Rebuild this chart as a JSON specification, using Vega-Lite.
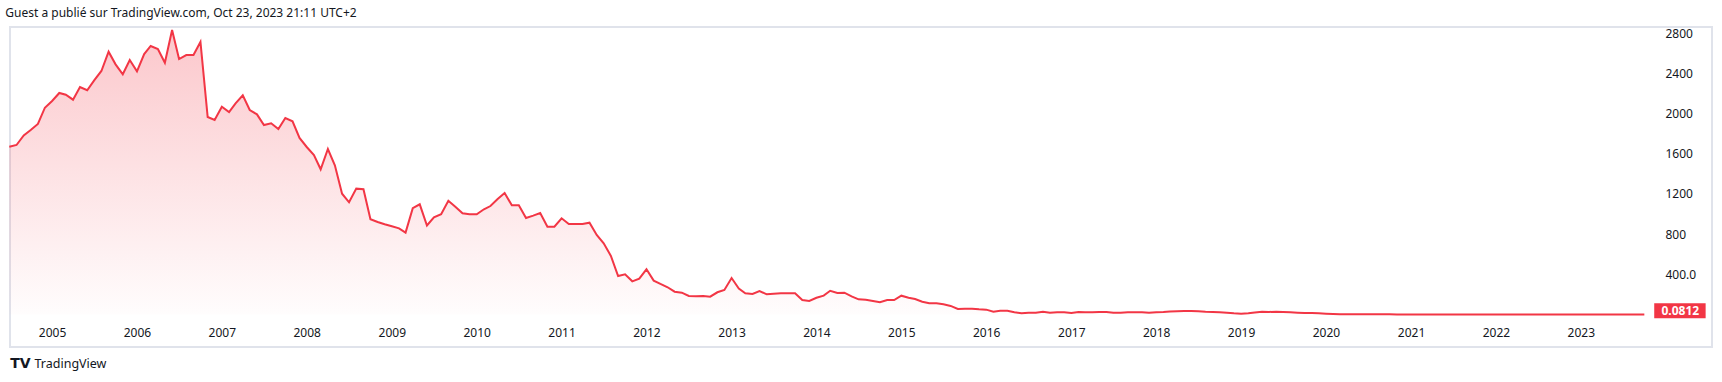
{
  "$schema": "https://vega.github.io/schema/vega-lite/v6.json",
  "width": 1702,
  "height": 320,
  "autosize": {"type": "none"},
  "padding": {"left": 10, "top": 27, "right": 10, "bottom": 35},
  "background": "white",
  "title": {
    "text": "Guest a publié sur TradingView.com, Oct 23, 2023 21:11 UTC+2",
    "anchor": "start",
    "font": "Noto Sans",
    "fontSize": 12,
    "fontWeight": "normal",
    "color": "#131722",
    "offset": 6
  },
  "config": {
    "view": {"stroke": "#e0e3eb", "strokeWidth": 2},
    "axis": {"grid": false, "domain": false, "ticks": false, "tickSize": 0, "labelFont": "Noto Sans", "labelFontSize": 12, "labelColor": "#131722", "labelFlush": false, "labelOverlap": false}
  },
  "data": {
    "values": [
      {"date": "2004-07-01", "value": 1671}, {"date": "2004-08-01", "value": 1688}, {"date": "2004-09-01", "value": 1784}, {"date": "2004-10-01", "value": 1837}, {"date": "2004-11-01", "value": 1897}, {"date": "2004-12-01", "value": 2059},
      {"date": "2005-01-01", "value": 2126}, {"date": "2005-02-01", "value": 2206}, {"date": "2005-03-01", "value": 2189}, {"date": "2005-04-01", "value": 2139}, {"date": "2005-05-01", "value": 2265}, {"date": "2005-06-01", "value": 2233}, {"date": "2005-07-01", "value": 2332}, {"date": "2005-08-01", "value": 2425}, {"date": "2005-09-01", "value": 2617}, {"date": "2005-10-01", "value": 2491}, {"date": "2005-11-01", "value": 2392}, {"date": "2005-12-01", "value": 2534},
      {"date": "2006-01-01", "value": 2422}, {"date": "2006-02-01", "value": 2594}, {"date": "2006-03-01", "value": 2674}, {"date": "2006-04-01", "value": 2644}, {"date": "2006-05-01", "value": 2507}, {"date": "2006-06-01", "value": 2833}, {"date": "2006-07-01", "value": 2544}, {"date": "2006-08-01", "value": 2584}, {"date": "2006-09-01", "value": 2584}, {"date": "2006-10-01", "value": 2714}, {"date": "2006-11-01", "value": 1967}, {"date": "2006-12-01", "value": 1937},
      {"date": "2007-01-01", "value": 2069}, {"date": "2007-02-01", "value": 2016}, {"date": "2007-03-01", "value": 2103}, {"date": "2007-04-01", "value": 2183}, {"date": "2007-05-01", "value": 2036}, {"date": "2007-06-01", "value": 1993}, {"date": "2007-07-01", "value": 1887}, {"date": "2007-08-01", "value": 1904}, {"date": "2007-09-01", "value": 1847}, {"date": "2007-10-01", "value": 1957}, {"date": "2007-11-01", "value": 1924}, {"date": "2007-12-01", "value": 1758},
      {"date": "2008-01-01", "value": 1668}, {"date": "2008-02-01", "value": 1588}, {"date": "2008-03-01", "value": 1446}, {"date": "2008-04-01", "value": 1648}, {"date": "2008-05-01", "value": 1486}, {"date": "2008-06-01", "value": 1203}, {"date": "2008-07-01", "value": 1117}, {"date": "2008-08-01", "value": 1253}, {"date": "2008-09-01", "value": 1247}, {"date": "2008-10-01", "value": 948}, {"date": "2008-11-01", "value": 921}, {"date": "2008-12-01", "value": 898},
      {"date": "2009-01-01", "value": 878}, {"date": "2009-02-01", "value": 858}, {"date": "2009-03-01", "value": 815}, {"date": "2009-04-01", "value": 1058}, {"date": "2009-05-01", "value": 1097}, {"date": "2009-06-01", "value": 886}, {"date": "2009-07-01", "value": 968}, {"date": "2009-08-01", "value": 998}, {"date": "2009-09-01", "value": 1132}, {"date": "2009-10-01", "value": 1073}, {"date": "2009-11-01", "value": 1008}, {"date": "2009-12-01", "value": 998},
      {"date": "2010-01-01", "value": 998}, {"date": "2010-02-01", "value": 1048}, {"date": "2010-03-01", "value": 1080}, {"date": "2010-04-01", "value": 1150}, {"date": "2010-05-01", "value": 1210}, {"date": "2010-06-01", "value": 1087}, {"date": "2010-07-01", "value": 1087}, {"date": "2010-08-01", "value": 961}, {"date": "2010-09-01", "value": 984}, {"date": "2010-10-01", "value": 1011}, {"date": "2010-11-01", "value": 874}, {"date": "2010-12-01", "value": 874},
      {"date": "2011-01-01", "value": 958}, {"date": "2011-02-01", "value": 901}, {"date": "2011-03-01", "value": 901}, {"date": "2011-04-01", "value": 901}, {"date": "2011-05-01", "value": 914}, {"date": "2011-06-01", "value": 792}, {"date": "2011-07-01", "value": 709}, {"date": "2011-08-01", "value": 583}, {"date": "2011-09-01", "value": 383}, {"date": "2011-10-01", "value": 400}, {"date": "2011-11-01", "value": 330}, {"date": "2011-12-01", "value": 357},
      {"date": "2012-01-01", "value": 450}, {"date": "2012-02-01", "value": 337}, {"date": "2012-03-01", "value": 304}, {"date": "2012-04-01", "value": 271}, {"date": "2012-05-01", "value": 227}, {"date": "2012-06-01", "value": 217}, {"date": "2012-07-01", "value": 184}, {"date": "2012-08-01", "value": 181}, {"date": "2012-09-01", "value": 184}, {"date": "2012-10-01", "value": 177}, {"date": "2012-11-01", "value": 221}, {"date": "2012-12-01", "value": 244},
      {"date": "2013-01-01", "value": 363}, {"date": "2013-02-01", "value": 257}, {"date": "2013-03-01", "value": 211}, {"date": "2013-04-01", "value": 204}, {"date": "2013-05-01", "value": 234}, {"date": "2013-06-01", "value": 201}, {"date": "2013-07-01", "value": 207}, {"date": "2013-08-01", "value": 211}, {"date": "2013-09-01", "value": 211}, {"date": "2013-10-01", "value": 211}, {"date": "2013-11-01", "value": 144}, {"date": "2013-12-01", "value": 135},
      {"date": "2014-01-01", "value": 166}, {"date": "2014-02-01", "value": 188}, {"date": "2014-03-01", "value": 236}, {"date": "2014-04-01", "value": 214}, {"date": "2014-05-01", "value": 217}, {"date": "2014-06-01", "value": 181}, {"date": "2014-07-01", "value": 151}, {"date": "2014-08-01", "value": 147}, {"date": "2014-09-01", "value": 134}, {"date": "2014-10-01", "value": 121}, {"date": "2014-11-01", "value": 144}, {"date": "2014-12-01", "value": 144},
      {"date": "2015-01-01", "value": 187}, {"date": "2015-02-01", "value": 167}, {"date": "2015-03-01", "value": 154}, {"date": "2015-04-01", "value": 127}, {"date": "2015-05-01", "value": 111}, {"date": "2015-06-01", "value": 111}, {"date": "2015-07-01", "value": 102}, {"date": "2015-08-01", "value": 85}, {"date": "2015-09-01", "value": 55}, {"date": "2015-10-01", "value": 58}, {"date": "2015-11-01", "value": 58}, {"date": "2015-12-01", "value": 52},
      {"date": "2016-01-01", "value": 48}, {"date": "2016-02-01", "value": 28}, {"date": "2016-03-01", "value": 38}, {"date": "2016-04-01", "value": 38}, {"date": "2016-05-01", "value": 22}, {"date": "2016-06-01", "value": 12}, {"date": "2016-07-01", "value": 18}, {"date": "2016-08-01", "value": 18}, {"date": "2016-09-01", "value": 28}, {"date": "2016-10-01", "value": 18}, {"date": "2016-11-01", "value": 22}, {"date": "2016-12-01", "value": 22},
      {"date": "2017-01-01", "value": 15}, {"date": "2017-02-01", "value": 25}, {"date": "2017-03-01", "value": 22}, {"date": "2017-04-01", "value": 22}, {"date": "2017-05-01", "value": 25}, {"date": "2017-06-01", "value": 25}, {"date": "2017-07-01", "value": 18}, {"date": "2017-08-01", "value": 18}, {"date": "2017-09-01", "value": 22}, {"date": "2017-10-01", "value": 22}, {"date": "2017-11-01", "value": 22}, {"date": "2017-12-01", "value": 18},
      {"date": "2018-01-01", "value": 22}, {"date": "2018-02-01", "value": 25}, {"date": "2018-03-01", "value": 30}, {"date": "2018-04-01", "value": 33}, {"date": "2018-05-01", "value": 35}, {"date": "2018-06-01", "value": 35}, {"date": "2018-07-01", "value": 33}, {"date": "2018-08-01", "value": 28}, {"date": "2018-09-01", "value": 25}, {"date": "2018-10-01", "value": 22}, {"date": "2018-11-01", "value": 18}, {"date": "2018-12-01", "value": 12},
      {"date": "2019-01-01", "value": 8}, {"date": "2019-02-01", "value": 12}, {"date": "2019-03-01", "value": 20}, {"date": "2019-04-01", "value": 28}, {"date": "2019-05-01", "value": 25}, {"date": "2019-06-01", "value": 28}, {"date": "2019-07-01", "value": 25}, {"date": "2019-08-01", "value": 22}, {"date": "2019-09-01", "value": 18}, {"date": "2019-10-01", "value": 15}, {"date": "2019-11-01", "value": 15}, {"date": "2019-12-01", "value": 12},
      {"date": "2020-01-01", "value": 8}, {"date": "2020-02-01", "value": 5}, {"date": "2020-03-01", "value": 3}, {"date": "2020-04-01", "value": 2}, {"date": "2020-05-01", "value": 1.5}, {"date": "2020-06-01", "value": 1.3}, {"date": "2020-07-01", "value": 1.2}, {"date": "2020-08-01", "value": 1.1}, {"date": "2020-09-01", "value": 1.0}, {"date": "2020-10-01", "value": 0.95}, {"date": "2020-11-01", "value": 0.9}, {"date": "2020-12-01", "value": 0.85},
      {"date": "2021-01-01", "value": 0.8}, {"date": "2021-02-01", "value": 0.75}, {"date": "2021-03-01", "value": 0.7}, {"date": "2021-04-01", "value": 0.65}, {"date": "2021-05-01", "value": 0.6}, {"date": "2021-06-01", "value": 0.55}, {"date": "2021-07-01", "value": 0.5}, {"date": "2021-08-01", "value": 0.48}, {"date": "2021-09-01", "value": 0.45}, {"date": "2021-10-01", "value": 0.42}, {"date": "2021-11-01", "value": 0.4}, {"date": "2021-12-01", "value": 0.38},
      {"date": "2022-01-01", "value": 0.35}, {"date": "2022-02-01", "value": 0.33}, {"date": "2022-03-01", "value": 0.3}, {"date": "2022-04-01", "value": 0.28}, {"date": "2022-05-01", "value": 0.26}, {"date": "2022-06-01", "value": 0.24}, {"date": "2022-07-01", "value": 0.22}, {"date": "2022-08-01", "value": 0.2}, {"date": "2022-09-01", "value": 0.19}, {"date": "2022-10-01", "value": 0.18}, {"date": "2022-11-01", "value": 0.17}, {"date": "2022-12-01", "value": 0.16},
      {"date": "2023-01-01", "value": 0.15}, {"date": "2023-02-01", "value": 0.14}, {"date": "2023-03-01", "value": 0.13}, {"date": "2023-04-01", "value": 0.12}, {"date": "2023-05-01", "value": 0.115}, {"date": "2023-06-01", "value": 0.11}, {"date": "2023-07-01", "value": 0.105}, {"date": "2023-08-01", "value": 0.1}, {"date": "2023-09-01", "value": 0.095}, {"date": "2023-10-01", "value": 0.0812}
    ]
  },
  "encoding": {
    "x": {
      "field": "date",
      "type": "temporal",
      "scale": {"type": "utc", "nice": false, "domain": [{"year": 2004, "month": 7, "date": 4, "utc": true}, {"year": 2024, "month": 7, "date": 18, "utc": true}]},
      "axis": {
        "orient": "bottom",
        "offset": -14.3,
        "labelPadding": 0,
        "labelBaseline": "middle",
        "format": "%Y",
        "values": [{"year": 2005, "utc": true}, {"year": 2006, "utc": true}, {"year": 2007, "utc": true}, {"year": 2008, "utc": true}, {"year": 2009, "utc": true}, {"year": 2010, "utc": true}, {"year": 2011, "utc": true}, {"year": 2012, "utc": true}, {"year": 2013, "utc": true}, {"year": 2014, "utc": true}, {"year": 2015, "utc": true}, {"year": 2016, "utc": true}, {"year": 2017, "utc": true}, {"year": 2018, "utc": true}, {"year": 2019, "utc": true}, {"year": 2020, "utc": true}, {"year": 2021, "utc": true}, {"year": 2022, "utc": true}, {"year": 2023, "utc": true}],
        "title": "TradingView",
        "titleX": 24,
        "titleY": 30.3,
        "titleAlign": "left",
        "titleBaseline": "middle",
        "titleFont": "Noto Sans",
        "titleFontSize": 12.5,
        "titleFontWeight": "normal",
        "titleColor": "#131722"
      }
    },
    "y": {
      "field": "value",
      "type": "quantitative",
      "scale": {"domain": [-324, 2863], "nice": false, "zero": false},
      "axis": {
        "orient": "right",
        "offset": -47,
        "labelPadding": 0,
        "labelAlign": "left",
        "labelBaseline": "middle",
        "values": [400, 800, 1200, 1600, 2000, 2400, 2800],
        "labelExpr": "datum.value == 400 ? '400.0' : '' + datum.value",
        "title": "TV",
        "titleAngle": 0,
        "titleX": -1645,
        "titleY": 336,
        "titleAlign": "center",
        "titleBaseline": "middle",
        "titleFont": "DejaVu Sans",
        "titleFontSize": 14,
        "titleFontWeight": 900,
        "titleColor": "#131722"
      }
    }
  },
  "layer": [
    {
      "mark": {
        "type": "area",
        "line": false,
        "fill": {
          "gradient": "linear",
          "x1": 0, "y1": 0, "x2": 0, "y2": 1,
          "stops": [
            {"offset": 0, "color": "rgba(242,54,69,0.28)"},
            {"offset": 1, "color": "rgba(242,54,69,0.01)"}
          ]
        }
      }
    },
    {
      "mark": {"type": "line", "color": "#f23645", "strokeWidth": 2}
    },
    {
      "transform": [{"filter": "datum.value < 0.09"}],
      "mark": {"type": "point", "shape": "M0.99,-1.12H6.13V0.38H0.99Z", "size": 400, "filled": true, "color": "#f23645", "opacity": 1, "strokeWidth": 0}
    },
    {
      "transform": [{"filter": "datum.value < 0.09"}],
      "mark": {"type": "text", "dx": 36, "dy": -3.7, "color": "white", "font": "Noto Sans", "fontSize": 12, "fontWeight": "bold", "align": "center", "baseline": "middle"},
      "encoding": {"text": {"field": "value", "type": "quantitative", "format": ".4f"}}
    }
  ]
}
